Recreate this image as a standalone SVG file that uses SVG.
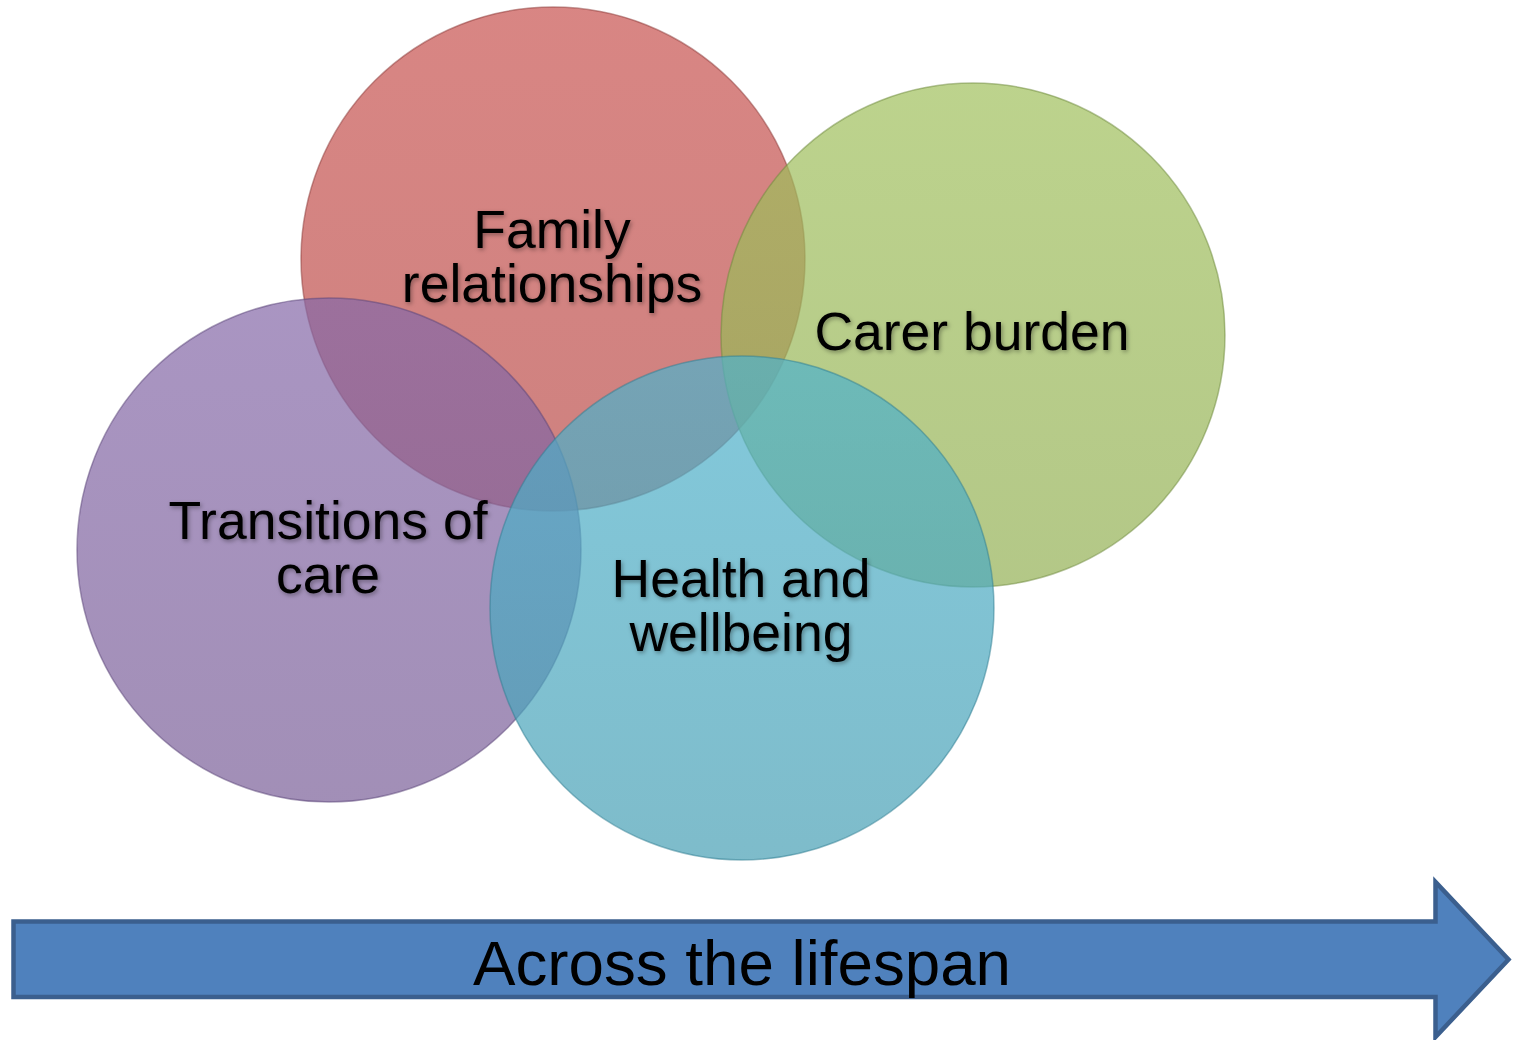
<svg xmlns="http://www.w3.org/2000/svg" width="1515" height="1040" viewBox="0 0 1515 1040">
  <defs>
    <linearGradient id="gRed" x1="0" y1="0" x2="0" y2="1">
      <stop offset="0" stop-color="#C8524F"/>
      <stop offset="1" stop-color="#B94C49"/>
    </linearGradient>
    <linearGradient id="gGreen" x1="0" y1="0" x2="0" y2="1">
      <stop offset="0" stop-color="#A0C05C"/>
      <stop offset="1" stop-color="#93B054"/>
    </linearGradient>
    <linearGradient id="gPurple" x1="0" y1="0" x2="0" y2="1">
      <stop offset="0" stop-color="#8568A8"/>
      <stop offset="1" stop-color="#7A5F98"/>
    </linearGradient>
    <linearGradient id="gBlue" x1="0" y1="0" x2="0" y2="1">
      <stop offset="0" stop-color="#4EB2CC"/>
      <stop offset="1" stop-color="#479FB4"/>
    </linearGradient>
    <filter id="tshadow" x="-10%" y="-20%" width="120%" height="150%">
      <feDropShadow dx="1.5" dy="2" stdDeviation="2" flood-color="#000" flood-opacity="0.35"/>
    </filter>
    <style>
      .circ { fill-opacity: 0.7; stroke-width: 1.5; stroke-opacity: 0.5; }
      .lbl { font-family: "Liberation Sans", Arial, sans-serif; font-size: 53.5px; fill: #000; text-anchor: middle; filter: url(#tshadow); }
      .arrowtxt { font-family: "Liberation Sans", Arial, sans-serif; font-size: 63.7px; fill: #000; text-anchor: middle; }
    </style>
  </defs>
  <rect width="1515" height="1040" fill="#FFFFFF"/>

  <g id="family">
    <circle class="circ" cx="553" cy="259" r="252" fill="url(#gRed)" stroke="#8C3A38"/>
  </g>
  <g id="carer">
    <circle class="circ" cx="973" cy="335" r="252" fill="url(#gGreen)" stroke="#6E8A3C"/>
  </g>
  <g id="transitions">
    <circle class="circ" cx="329" cy="550" r="252" fill="url(#gPurple)" stroke="#5A4477"/>
  </g>
  <g id="health">
    <circle class="circ" cx="742" cy="608" r="252" fill="url(#gBlue)" stroke="#2F7E92"/>
  </g>

  <g id="labels">
    <text class="lbl" x="552" y="248">Family</text>
    <text class="lbl" x="552" y="302">relationships</text>
    <text class="lbl" x="972" y="350">Carer burden</text>
    <text class="lbl" x="328" y="539">Transitions of</text>
    <text class="lbl" x="328" y="593">care</text>
    <text class="lbl" x="741" y="597">Health and</text>
    <text class="lbl" x="741" y="651">wellbeing</text>
  </g>

  <g id="lifespan-arrow">
    <polygon points="13.5,921.5 1435.5,921.5 1435.5,882 1508.5,959.5 1435.5,1037 1435.5,997 13.5,997" fill="#4F81BD" stroke="#3B5F8E" stroke-width="4.5" stroke-linejoin="miter"/>
    <text class="arrowtxt" x="742" y="985">Across the lifespan</text>
  </g>
</svg>
